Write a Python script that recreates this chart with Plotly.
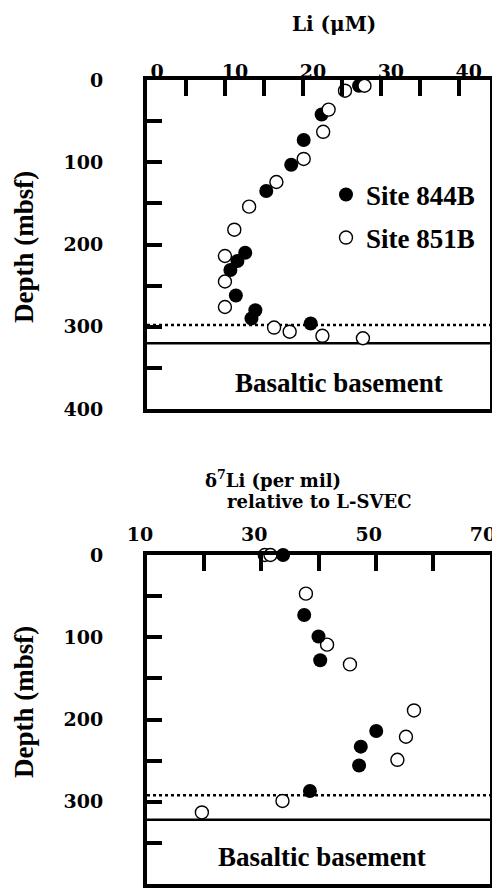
import plotly.graph_objects as go

# ---------------- data ----------------
# Li concentration (uM) vs depth (mbsf)
li_844_depth = [7, 42, 73, 103, 135, 210, 220, 231, 262, 280, 290, 296]
li_844 = [27.2, 22.4, 20.1, 18.5, 15.3, 12.6, 11.6, 10.7, 11.4, 13.9, 13.4, 21.0]
li_851_depth = [13, 7, 36, 63, 96, 124, 154, 182, 214, 245, 276, 301, 306, 311, 314]
li_851 = [25.4, 27.9, 23.3, 22.6, 20.1, 16.6, 13.1, 11.2, 10.0, 10.0, 10.0, 16.3, 18.3, 22.5, 27.7]

# d7Li (per mil) vs depth (mbsf)
d7_844_depth = [0, 73, 99, 128, 214, 233, 256, 287]
d7_844 = [33.8, 37.5, 40.0, 40.3, 50.1, 47.4, 47.1, 38.5]
d7_851_depth = [0, 0, 47, 109, 133, 189, 221, 249, 299, 313]
d7_851 = [30.6, 31.6, 37.8, 41.5, 45.5, 56.7, 55.3, 53.8, 33.7, 19.6]

# boundary depths (dotted = sediment base, solid = basement top)
top_dotted, top_solid = 298, 320
bot_dotted, bot_solid = 292, 322

site_names = ["Site 844B", "Site 851B"]
li_ticks = [0, 10, 20, 30, 40]
d7_ticks = [10, 30, 50, 70]
depth_ticks = [0, 100, 200, 300, 400]

# ---------------- figure ----------------
W, H = 492, 889
L, R, T, B = 147, 2, 80, 5
plot_h = H - T - B
top_px = (80, 409)
bot_px = (555, 884)


def frac(py):
    return (H - B - py) / plot_h


def xfrac(px):
    return (px - L) / (W - L - R)


TICKFONT = dict(family="DejaVu Serif", size=19, color="black", weight="bold")
SERIF = dict(family="Liberation Serif", size=27, color="black", weight="bold")
TITLEFONT = dict(family="DejaVu Serif", size=18, color="black", weight="bold")

fig = go.Figure()

filled = dict(symbol="circle", size=14, color="black", line=dict(color="black", width=0))
opened = dict(symbol="circle", size=13, color="white", line=dict(color="black", width=1.4))

# top panel: filled first, open on top
fig.add_trace(go.Scatter(x=li_844, y=li_844_depth, mode="markers", marker=filled,
                         name=site_names[0], xaxis="x", yaxis="y", cliponaxis=False,
                         legend="legend"))
fig.add_trace(go.Scatter(x=li_851, y=li_851_depth, mode="markers", marker=opened,
                         name=site_names[1], xaxis="x", yaxis="y", cliponaxis=False,
                         legend="legend2"))
# bottom panel: open first, filled on top
fig.add_trace(go.Scatter(x=d7_851, y=d7_851_depth, mode="markers", marker=opened,
                         name=site_names[1], xaxis="x2", yaxis="y2", cliponaxis=False,
                         showlegend=False))
fig.add_trace(go.Scatter(x=d7_844, y=d7_844_depth, mode="markers", marker=filled,
                         name=site_names[0], xaxis="x2", yaxis="y2", cliponaxis=False,
                         showlegend=False))

frame = dict(showline=True, linewidth=4, linecolor="black", mirror=True,
             showgrid=False, zeroline=False, automargin=False)

XTL = 16  # top-axis inside tick length

fig.update_layout(
    width=W, height=H,
    margin=dict(l=L, r=R, t=T, b=B, pad=0),
    paper_bgcolor="white", plot_bgcolor="white",
    xaxis=dict(frame, side="top", anchor="y", range=[0, 44], tickmode="array",
               tickvals=li_ticks, ticks="inside", ticklen=XTL, tickwidth=4,
               tickcolor="black", tickfont=TICKFONT, ticklabelshift=10,
               ticklabelstandoff=-10,
               minor=dict(dtick=5, tick0=0, ticks="inside", ticklen=XTL, tickwidth=4,
                          tickcolor="black")),
    yaxis=dict(frame, domain=[frac(top_px[1]), frac(top_px[0])], anchor="x",
               range=[400, 0], tickmode="array", tickvals=depth_ticks, ticks="inside",
               ticklen=15, tickwidth=4, tickcolor="black", tickfont=TICKFONT,
               ticklabelstandoff=36, layer="below traces",
               minor=dict(dtick=50, tick0=0, ticks="inside", ticklen=15, tickwidth=4,
                          tickcolor="black")),
    xaxis2=dict(frame, side="top", anchor="y2", range=[10, 70], tickmode="array",
                tickvals=d7_ticks, ticks="inside", ticklen=XTL, tickwidth=4,
                tickcolor="black", tickfont=TICKFONT,
                ticklabelshift=-7, ticklabelstandoff=2, ticklabeloverflow="allow",
                minor=dict(dtick=10, tick0=10, ticks="inside", ticklen=XTL, tickwidth=4,
                           tickcolor="black")),
    yaxis2=dict(frame, domain=[frac(bot_px[1]), frac(bot_px[0])], anchor="x2",
                range=[400, 0], tickmode="array", tickvals=depth_ticks, ticks="inside",
                ticklen=15, tickwidth=4, tickcolor="black", tickfont=TICKFONT,
                ticklabelstandoff=36, layer="below traces",
                minor=dict(dtick=50, tick0=0, ticks="inside", ticklen=15, tickwidth=4,
                           tickcolor="black")),
    legend=dict(x=xfrac(326), xanchor="left", y=frac(195), yanchor="middle",
                font=SERIF, bgcolor="rgba(0,0,0,0)", borderwidth=0),
    legend2=dict(x=xfrac(326), xanchor="left", y=frac(238), yanchor="middle",
                 font=SERIF, bgcolor="rgba(0,0,0,0)", borderwidth=0),
    showlegend=True,
)

# boundary lines
for xr, yr, yd, ys in [("x domain", "y", top_dotted, top_solid),
                       ("x2 domain", "y2", bot_dotted, bot_solid)]:
    fig.add_shape(type="line", xref=xr, yref=yr, x0=0, x1=1, y0=yd, y1=yd,
                  line=dict(color="black", width=2.5, dash="dot"), layer="below")
    fig.add_shape(type="line", xref=xr, yref=yr, x0=0, x1=1, y0=ys, y1=ys,
                  line=dict(color="black", width=2.5), layer="below")

# texts
fig.add_annotation(text="Basaltic basement", xref="x domain", yref="y",
                   x=xfrac(339), y=368, xanchor="center", yanchor="middle",
                   showarrow=False, font=SERIF)
fig.add_annotation(text="Basaltic basement", xref="x2 domain", yref="y2",
                   x=xfrac(322), y=367, xanchor="center", yanchor="middle",
                   showarrow=False, font=SERIF)
for yc in (247, 702):
    fig.add_annotation(text="Depth (mbsf)", xref="paper", yref="paper",
                       x=xfrac(24), y=frac(yc), xanchor="center", yanchor="middle",
                       textangle=-90, showarrow=False, font=SERIF)
fig.add_annotation(text="Li (\u03bcM)", xref="paper", yref="paper",
                   x=xfrac(334), y=frac(24), xanchor="center", yanchor="middle",
                   showarrow=False, font=dict(TITLEFONT, size=20))
fig.add_annotation(text="\u03b4<sup>7</sup>Li (per mil)", xref="paper", yref="paper",
                   x=xfrac(273), y=frac(479), xanchor="center", yanchor="middle",
                   showarrow=False, font=TITLEFONT)
fig.add_annotation(text="relative to L-SVEC", xref="paper", yref="paper",
                   x=xfrac(319), y=frac(501), xanchor="center", yanchor="middle",
                   showarrow=False, font=TITLEFONT)

fig.write_html("out.html")
